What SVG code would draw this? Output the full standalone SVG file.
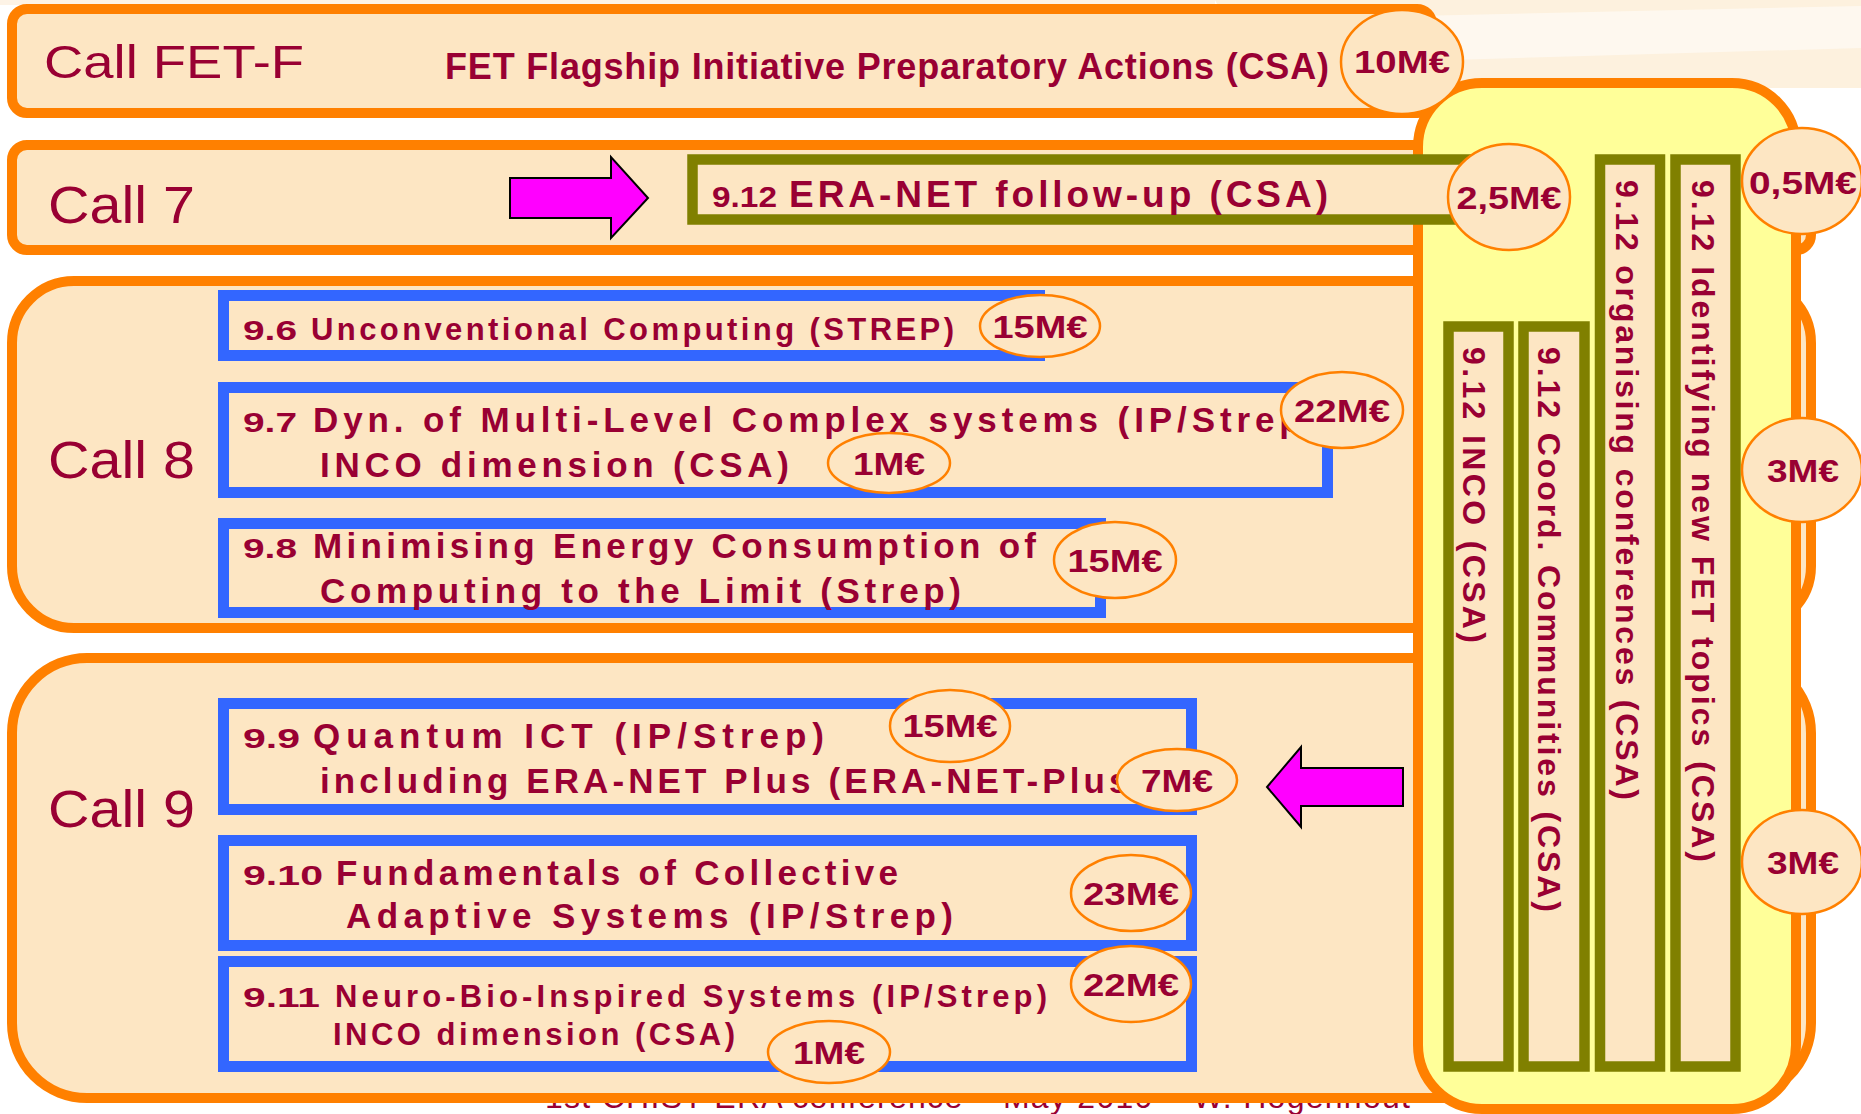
<svg xmlns="http://www.w3.org/2000/svg" width="1861" height="1114" viewBox="0 0 1861 1114">
<style>
.call{fill:#FDE6C3;stroke:#FF8000;stroke-width:10}
.item{fill:#FDE6C3;stroke:#3366FF;stroke-width:11}
.olive{fill:#FDE6C3;stroke:#808000;stroke-width:10.5}
.amt{fill:#FDE6C3;stroke:#FF8000;stroke-width:2.5}
.t{font-family:"Liberation Sans",Arial,sans-serif;fill:#990033}
.b{font-weight:bold}
.h{font-size:51px}
.n{font-size:28px;font-weight:bold}
.m{font-size:35px;font-weight:bold}
.s{font-size:31px;font-weight:bold}
.v{font-size:32px;font-weight:bold}
.a{font-size:31px;font-weight:bold;text-anchor:middle}
.arrow{fill:#FF00FF;stroke:#000000;stroke-width:2}
</style>
<rect x="0" y="0" width="1861" height="1114" fill="#FFFFFF"/>
<g id="background">
<polygon points="1215,0 1861,0 1861,88 1440,88 1230,30" fill="#FDF1DE"/>
<polygon points="1240,20 1861,6 1861,48 1450,60" fill="#FEF8EF"/>
<rect x="0" y="0" width="1215" height="5" fill="#FDF3E6"/>
</g>
<text id="footer" class="t" x="545" y="1108" font-size="32" textLength="865" lengthAdjust="spacing">1st CHIST-ERA conference – May 2010 – W. Hogenhout</text>

<g id="call-fetf">
<rect class="call" x="12" y="9" width="1420" height="104" rx="15"/>
<text class="t" x="44" y="78" font-size="46" textLength="260" lengthAdjust="spacingAndGlyphs">Call FET-F</text>
<text class="t b" x="445" y="79" font-size="36" textLength="884" lengthAdjust="spacing">FET Flagship Initiative Preparatory Actions (CSA)</text>
</g>
<g id="call-7">
<rect class="call" x="12" y="145" width="1799" height="105" rx="15"/>
<text class="t h" x="48" y="223" textLength="147" lengthAdjust="spacingAndGlyphs">Call 7</text>
</g>
<g id="call-8">
<rect class="call" x="12" y="281" width="1799" height="347" rx="62"/>
<text class="t h" x="48" y="478" textLength="147" lengthAdjust="spacingAndGlyphs">Call 8</text>
</g>
<g id="call-9">
<rect class="call" x="12" y="658" width="1799" height="440" rx="75"/>
<text class="t h" x="48" y="827" textLength="147" lengthAdjust="spacingAndGlyphs">Call 9</text>
</g>

<g id="csa-panel">
<rect x="1418" y="83" width="378" height="1026" rx="64" fill="#FFFF99" stroke="#FF8000" stroke-width="10"/>
</g>

<g id="item-9-12-eranet">
<rect class="olive" x="692.5" y="159.5" width="800" height="60" stroke-width="11"/>
<text class="t" x="712" y="207" font-size="29" font-weight="bold" textLength="65" lengthAdjust="spacingAndGlyphs">9.12</text>
<text class="t b" x="789" y="207" font-size="37" textLength="539" lengthAdjust="spacing">ERA-NET follow-up (CSA)</text>
</g>
<g id="item-9-12-inco">
<rect class="olive" x="1448.5" y="326.5" width="60" height="740"/>
<text class="t v" transform="translate(1463,347) rotate(90)" textLength="296" lengthAdjust="spacing">9.12 INCO (CSA)</text>
</g>
<g id="item-9-12-coord">
<rect class="olive" x="1523.5" y="326.5" width="61" height="740"/>
<text class="t v" transform="translate(1538,347) rotate(90)" textLength="565" lengthAdjust="spacing">9.12 Coord. Communities (CSA)</text>
</g>
<g id="item-9-12-conf">
<rect class="olive" x="1600" y="159.5" width="60" height="907"/>
<text class="t v" transform="translate(1616,180) rotate(90)" textLength="620" lengthAdjust="spacing">9.12 organising conferences (CSA)</text>
</g>
<g id="item-9-12-topics">
<rect class="olive" x="1675.5" y="159.5" width="60" height="907"/>
<text class="t v" transform="translate(1692,180) rotate(90)" textLength="682" lengthAdjust="spacing">9.12 Identifying new FET topics (CSA)</text>
</g>

<g id="item-9-6">
<rect class="item" x="223.5" y="295.5" width="816" height="60"/>
<text class="t n" x="243" y="340" textLength="54" lengthAdjust="spacingAndGlyphs">9.6</text>
<text class="t s" x="311" y="340" textLength="643" lengthAdjust="spacing">Unconventional Computing (STREP)</text>
</g>
<g id="item-9-7">
<rect class="item" x="223.5" y="387.5" width="1104" height="105"/>
<text class="t n" x="243" y="432" textLength="54" lengthAdjust="spacingAndGlyphs">9.7</text>
<text class="t m" x="313" y="432" letter-spacing="4.9">Dyn. of Multi-Level Complex systems (IP/Strep)</text>
<text class="t m" x="320" y="477" textLength="469" lengthAdjust="spacing">INCO dimension (CSA)</text>
</g>
<g id="item-9-8">
<rect class="item" x="223.5" y="523.5" width="877" height="89"/>
<text class="t n" x="243" y="558" textLength="54" lengthAdjust="spacingAndGlyphs">9.8</text>
<text class="t m" x="313" y="558" textLength="723" lengthAdjust="spacing">Minimising Energy Consumption of</text>
<text class="t m" x="320" y="603" textLength="641" lengthAdjust="spacing">Computing to the Limit (Strep)</text>
</g>
<g id="item-9-9">
<rect class="item" x="223.5" y="703.5" width="968" height="106"/>
<text class="t n" x="243" y="748" textLength="57" lengthAdjust="spacingAndGlyphs">9.9</text>
<text class="t m" x="313" y="748" textLength="511" lengthAdjust="spacing">Quantum ICT (IP/Strep)</text>
<text class="t m" x="320" y="793" letter-spacing="4.1">including ERA-NET Plus (ERA-NET-Plus)</text>
</g>
<g id="item-9-10">
<rect class="item" x="223.5" y="840.5" width="968" height="105"/>
<text class="t n" x="243" y="885" textLength="80" lengthAdjust="spacingAndGlyphs">9.10</text>
<text class="t m" x="336" y="885" textLength="562" lengthAdjust="spacing">Fundamentals of Collective</text>
<text class="t m" x="346" y="928" textLength="607" lengthAdjust="spacing">Adaptive Systems (IP/Strep)</text>
</g>
<g id="item-9-11">
<rect class="item" x="223.5" y="961.5" width="968" height="105"/>
<text class="t n" x="243" y="1007" textLength="77" lengthAdjust="spacingAndGlyphs">9.11</text>
<text class="t s" x="335" y="1007" textLength="712" lengthAdjust="spacing">Neuro-Bio-Inspired Systems (IP/Strep)</text>
<text class="t s" x="333" y="1045" textLength="402" lengthAdjust="spacing">INCO dimension (CSA)</text>
</g>

<g id="amounts">
<g id="amt-fetf"><ellipse class="amt" cx="1402" cy="62" rx="61" ry="52"/><text class="t a" x="1402" y="73" textLength="96" lengthAdjust="spacingAndGlyphs">10M€</text></g>
<g id="amt-eranet"><ellipse class="amt" cx="1509" cy="197" rx="61" ry="53"/><text class="t a" x="1509" y="209" textLength="105" lengthAdjust="spacingAndGlyphs">2,5M€</text></g>
<g id="amt-call7"><ellipse class="amt" cx="1802" cy="181" rx="60" ry="53"/><text class="t a" x="1803" y="194" textLength="108" lengthAdjust="spacingAndGlyphs">0,5M€</text></g>
<g id="amt-call8"><ellipse class="amt" cx="1802" cy="470" rx="60" ry="52"/><text class="t a" x="1803" y="482" textLength="72" lengthAdjust="spacingAndGlyphs">3M€</text></g>
<g id="amt-call9"><ellipse class="amt" cx="1802" cy="862" rx="60" ry="52"/><text class="t a" x="1803" y="874" textLength="72" lengthAdjust="spacingAndGlyphs">3M€</text></g>
<g id="amt-9-6"><ellipse class="amt" cx="1040" cy="326" rx="60" ry="31"/><text class="t a" x="1040" y="338" textLength="95" lengthAdjust="spacingAndGlyphs">15M€</text></g>
<g id="amt-9-7"><ellipse class="amt" cx="1342" cy="410" rx="61" ry="38"/><text class="t a" x="1342" y="422" textLength="96" lengthAdjust="spacingAndGlyphs">22M€</text></g>
<g id="amt-9-7-inco"><ellipse class="amt" cx="889" cy="463" rx="61" ry="30"/><text class="t a" x="889" y="475" textLength="72" lengthAdjust="spacingAndGlyphs">1M€</text></g>
<g id="amt-9-8"><ellipse class="amt" cx="1115" cy="560" rx="61" ry="38"/><text class="t a" x="1115" y="572" textLength="95" lengthAdjust="spacingAndGlyphs">15M€</text></g>
<g id="amt-9-9"><ellipse class="amt" cx="950" cy="726" rx="60" ry="36"/><text class="t a" x="950" y="737" textLength="95" lengthAdjust="spacingAndGlyphs">15M€</text></g>
<g id="amt-9-9-plus"><ellipse class="amt" cx="1177" cy="780" rx="60" ry="31"/><text class="t a" x="1177" y="792" textLength="72" lengthAdjust="spacingAndGlyphs">7M€</text></g>
<g id="amt-9-10"><ellipse class="amt" cx="1131" cy="893" rx="60" ry="38"/><text class="t a" x="1131" y="905" textLength="96" lengthAdjust="spacingAndGlyphs">23M€</text></g>
<g id="amt-9-11"><ellipse class="amt" cx="1131" cy="984" rx="60" ry="38"/><text class="t a" x="1131" y="996" textLength="96" lengthAdjust="spacingAndGlyphs">22M€</text></g>
<g id="amt-9-11-inco"><ellipse class="amt" cx="829" cy="1052" rx="61" ry="31"/><text class="t a" x="829" y="1064" textLength="72" lengthAdjust="spacingAndGlyphs">1M€</text></g>
</g>

<g id="connectors">
<polygon class="arrow" points="510,178 611,178 611,157 648,198 611,238 611,218 510,218"/>
<polygon class="arrow" points="1403,768 1301,768 1301,747 1267,787 1301,827 1301,806 1403,806"/>
</g>
</svg>
